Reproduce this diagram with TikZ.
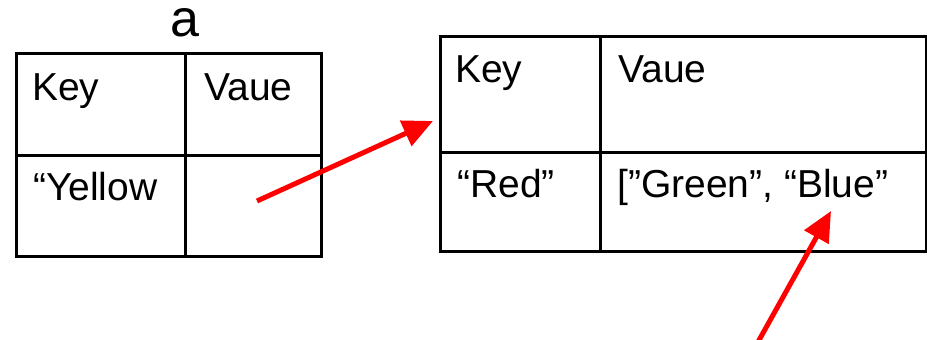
\documentclass[tikz,border=0pt]{standalone}
\usepackage{fontspec}
\setmainfont{Liberation Sans}
\usetikzlibrary{arrows.meta}
\begin{document}
\begin{tikzpicture}[x=1pt,y=-1pt,
  cell/.style={draw=black, line width=2.5pt, anchor=north west, inner sep=0pt, minimum width=#1},
  txt/.style={anchor=base west, inner sep=0pt, font=\fontsize{39}{46}\selectfont},
  ptr/.style={draw=red, line width=5pt, -{Triangle[length=30pt,width=27pt]}}]
\useasboundingbox (0,0) rectangle (927,340);
% title
\node[anchor=base, inner sep=0pt, text height=28pt, text depth=0pt, font=\fontsize{52}{60}\selectfont] (title) at (184.5,36) {a};
% left table
\node[cell=169pt, minimum height=102pt] (lk) at (15,52) {};
\node[cell=136pt, minimum height=102pt] (lv) at (184,52) {};
\node[cell=169pt, minimum height=101pt] (lkey) at (15,154) {};
\node[cell=136pt, minimum height=101pt] (lval) at (184,154) {};
\node[txt] (t1) at (32,100) {Key};
\node[txt] (t2) at (204,100) {Vaue};
\node[txt] (t3) at (33,200) {“Yellow};
% right table
\node[cell=160pt, minimum height=116pt] (rk) at (439,35) {};
\node[cell=326pt, minimum height=116pt] (rv) at (599,35) {};
\node[cell=160pt, minimum height=99pt] (rkey) at (439,151) {};
\node[cell=326pt, minimum height=99pt] (rval) at (599,151) {};
\node[txt] (t4) at (455,82) {Key};
\node[txt] (t5) at (618,82) {Vaue};
\node[txt] (t6) at (457,197) {“Red”};
\node[txt] (t7) at (617,197) {[”Green”, “Blue”};
% arrows
\coordinate (a1s) at (257,201);
\coordinate (a1e) at (433,121);
\coordinate (a2s) at (758,342);
\coordinate (a2e) at (831,211);
\draw[ptr] (a1s) -- (a1e);
\draw[ptr] (a2s) -- (a2e);
\end{tikzpicture}
\end{document}
